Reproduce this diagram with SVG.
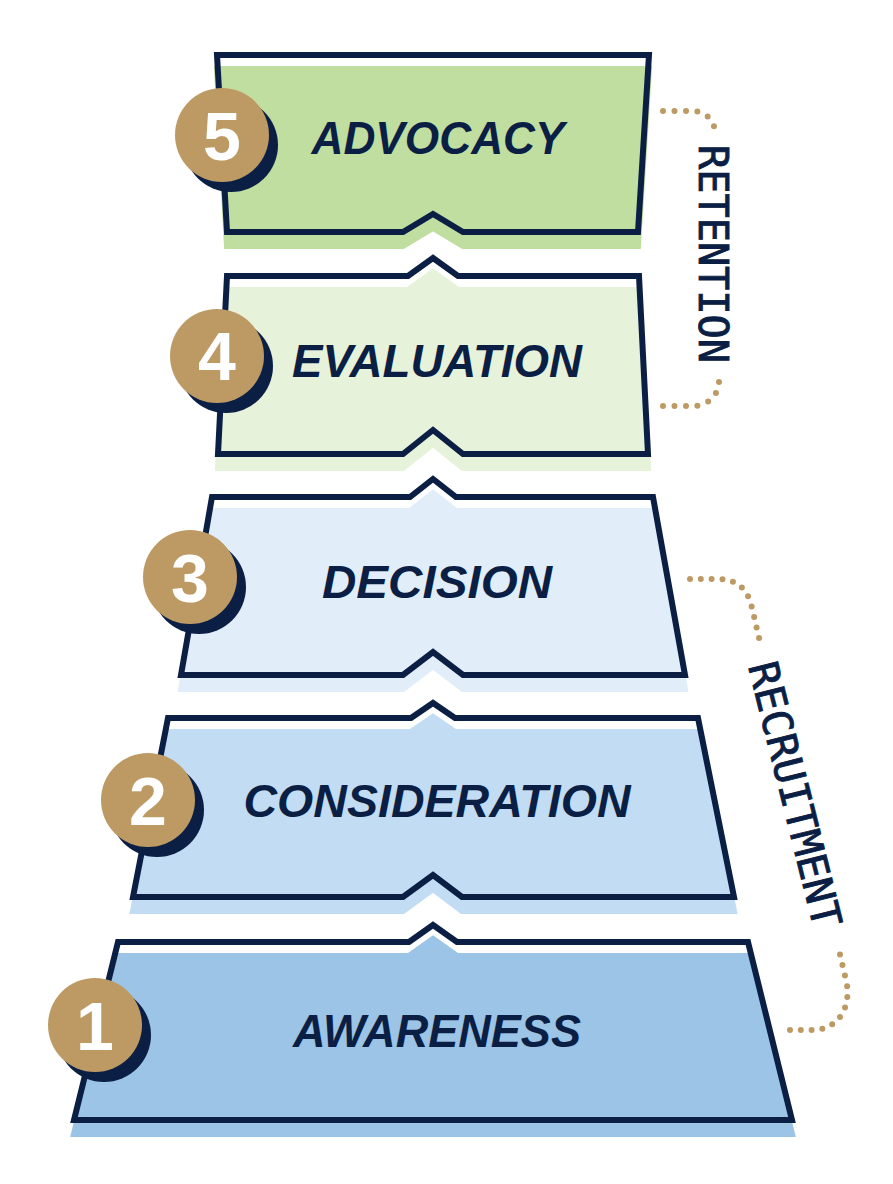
<svg xmlns="http://www.w3.org/2000/svg" width="893" height="1184" viewBox="0 0 893 1184">
<style>
.outline{fill:none;stroke:#0b1f45;stroke-width:6;stroke-linejoin:miter}
.lbl{font-family:"Liberation Sans",Arial,sans-serif;font-weight:bold;font-style:italic;font-size:47px;fill:#0b1f45;text-anchor:middle}
.num{font-family:"Liberation Sans",Arial,sans-serif;font-weight:bold;font-size:68px;fill:#ffffff;text-anchor:middle}
.gold{fill:#bd9a63}
.shadow{fill:#0b1f45}
.side{font-family:"DejaVu Sans Mono",monospace;font-size:41px;fill:#0b1f45;stroke:#0b1f45;stroke-width:0.9;text-anchor:middle}
.dots{fill:none;stroke:#bd9a63;stroke-width:6;stroke-linecap:round}
</style>
<rect width="893" height="1184" fill="#ffffff"/>

<g id="tier1">
<path d="M118,942 L409,942 L433,925 L457,942 L748,942 L792,1120 L74,1120 Z" transform="translate(0,14)" fill="#9bc4e7" stroke="#9bc4e7" stroke-width="6"/>
<path class="outline" d="M118,942 L409,942 L433,925 L457,942 L748,942 L792,1120 L74,1120 Z"/>
<circle class="shadow" cx="104" cy="1035" r="47"/>
<circle class="gold" cx="95" cy="1025" r="47"/>
<text class="num" x="95" y="1050">1</text>
<text class="lbl" x="437" y="1047" textLength="288" lengthAdjust="spacingAndGlyphs">AWARENESS</text>
</g>

<g id="tier2">
<path d="M168,718 L411,718 L433,703 L455,718 L698,718 L734,897 L462,897 L433,875 L403,897 L133,897 Z" transform="translate(0,14)" fill="#c2dcf3" stroke="#c2dcf3" stroke-width="6"/>
<path class="outline" d="M168,718 L411,718 L433,703 L455,718 L698,718 L734,897 L462,897 L433,875 L403,897 L133,897 Z"/>
<circle class="shadow" cx="157" cy="810" r="47"/>
<circle class="gold" cx="148" cy="800" r="47"/>
<text class="num" x="148" y="825">2</text>
<text class="lbl" x="437" y="817" textLength="387" lengthAdjust="spacingAndGlyphs">CONSIDERATION</text>
</g>

<g id="tier3">
<path d="M212,497 L410,497 L433,479 L456,497 L653,497 L685,675 L463,675 L433,652 L403,675 L181,675 Z" transform="translate(0,14)" fill="#e1eefa" stroke="#e1eefa" stroke-width="6"/>
<path class="outline" d="M212,497 L410,497 L433,479 L456,497 L653,497 L685,675 L463,675 L433,652 L403,675 L181,675 Z"/>
<circle class="shadow" cx="199" cy="587" r="47"/>
<circle class="gold" cx="190" cy="577" r="47"/>
<text class="num" x="190" y="602">3</text>
<text class="lbl" x="437" y="598" textLength="230" lengthAdjust="spacingAndGlyphs">DECISION</text>
</g>

<g id="tier4">
<path d="M227,276 L408,276 L433,258 L458,276 L639,276 L648,454 L463,454 L433,430 L403,454 L218,454 Z" transform="translate(0,14)" fill="#e7f2da" stroke="#e7f2da" stroke-width="6"/>
<path class="outline" d="M227,276 L408,276 L433,258 L458,276 L639,276 L648,454 L463,454 L433,430 L403,454 L218,454 Z"/>
<circle class="shadow" cx="226" cy="366" r="47"/>
<circle class="gold" cx="217" cy="356" r="47"/>
<text class="num" x="217" y="380">4</text>
<text class="lbl" x="437" y="377" textLength="290" lengthAdjust="spacingAndGlyphs">EVALUATION</text>
</g>

<g id="tier5">
<path d="M217,55 L649,55 L638,232 L463,232 L433,214 L403,232 L227,232 Z" transform="translate(0,14)" fill="#c0dea0" stroke="#c0dea0" stroke-width="6"/>
<path class="outline" d="M217,55 L649,55 L638,232 L463,232 L433,214 L403,232 L227,232 Z"/>
<circle class="shadow" cx="231" cy="145" r="47"/>
<circle class="gold" cx="222" cy="135" r="47"/>
<text class="num" x="222" y="160">5</text>
<text class="lbl" x="438" y="154" textLength="253" lengthAdjust="spacingAndGlyphs">ADVOCACY</text>
</g>

<g id="connectors">
<path class="dots" stroke-dasharray="0 11.5" d="M663,111 H693 A22,22 0 0 1 715,133"/>
<path class="dots" stroke-dasharray="0 11.5" d="M663,406 H694 A25,25 0 0 0 719,381"/>
<path class="dots" stroke-dasharray="0 10.8" d="M690,579 L718,579 C738,579 748,590 752,608 L760,642"/>
<path class="dots" stroke-dasharray="0 10.8" d="M790,1030 H812 C840,1030 852,1005 846,980 L838,946"/>
</g>

<g id="retention">
<text class="side" transform="translate(699,254) rotate(90)" textLength="218" lengthAdjust="spacingAndGlyphs">RETENTION</text>
</g>
<g id="recruitment">
<text class="side" transform="translate(781,798) rotate(76)" textLength="272" lengthAdjust="spacingAndGlyphs">RECRUITMENT</text>
</g>
</svg>
